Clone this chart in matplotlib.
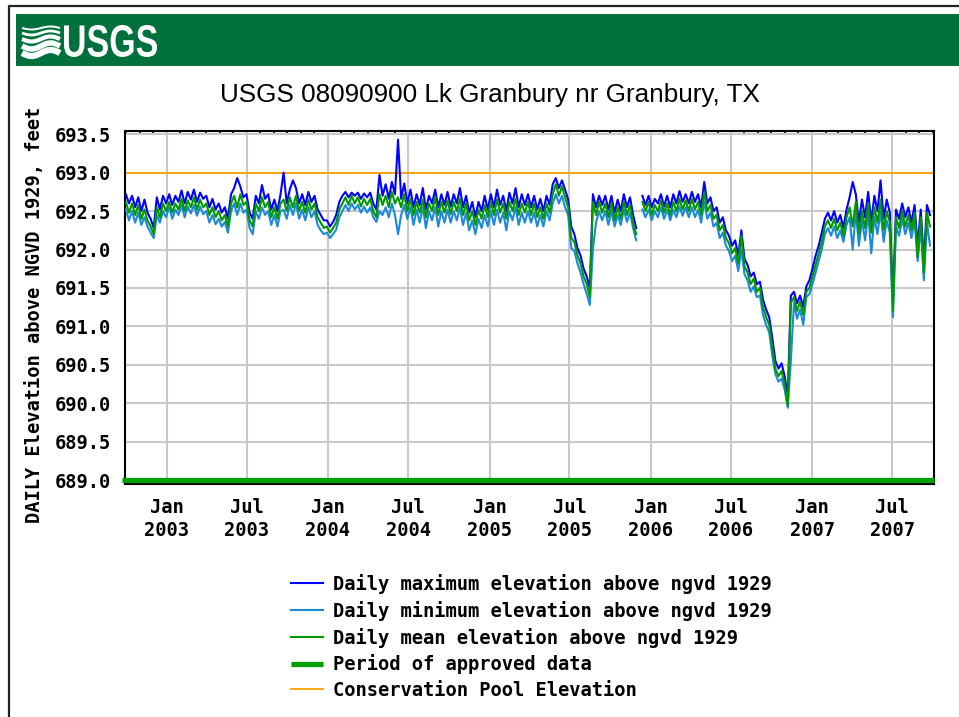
import numpy as np
import pandas as pd
import matplotlib
matplotlib.use('Agg')
import matplotlib.pyplot as plt
import matplotlib.dates as mdates
from matplotlib.patches import Rectangle, PathPatch
from matplotlib.textpath import TextPath
from matplotlib.font_manager import FontProperties
from matplotlib.transforms import Affine2D

# weekly readings, starting 2002-10-01 (feet above NGVD 1929)
nan = np.nan
mean_elev = [
    692.62, 692.48, 692.60, 692.45, 692.58, 692.40, 692.52, 692.38, 692.30, 692.20, 692.55, 692.42, 692.60,
    692.50, 692.62, 692.48, 692.60, 692.52, 692.66, 692.50, 692.64, 692.55, 692.68, 692.52, 692.65, 692.55,
    692.60, 692.45, 692.55, 692.42, 692.50, 692.38, 692.45, 692.30, 692.60, 692.70, 692.55, 692.72, 692.58,
    692.62, 692.38, 692.30, 692.60, 692.50, 692.68, 692.55, 692.62, 692.42, 692.55, 692.40, 692.60, 692.65,
    692.50, 692.68, 692.55, 692.70, 692.50, 692.62, 692.48, 692.65, 692.52, 692.60, 692.42, 692.35, 692.28,
    692.30, 692.22, 692.28, 692.35, 692.52, 692.60, 692.68, 692.58, 692.70, 692.60, 692.68, 692.56, 692.66,
    692.58, 692.66, 692.50, 692.42, 692.72, 692.58, 692.70, 692.55, 692.75, 692.60, 692.68, 692.55, 692.72,
    692.50, 692.66, 692.45, 692.62, 692.48, 692.65, 692.42, 692.60, 692.50, 692.68, 692.45, 692.62, 692.48,
    692.64, 692.46, 692.62, 692.50, 692.66, 692.45, 692.60, 692.38, 692.50, 692.32, 692.52, 692.40, 692.58,
    692.42, 692.62, 692.45, 692.65, 692.48, 692.60, 692.40, 692.62, 692.50, 692.66, 692.45, 692.60, 692.48,
    692.62, 692.45, 692.60, 692.42, 692.55, 692.40, 692.60, 692.48, 692.72, 692.85, 692.70, 692.82, 692.68,
    692.55, 692.15, 692.10, 691.92, 691.82, 691.65, 691.55, 691.38, 692.62, 692.45, 692.62, 692.48, 692.60,
    692.42, 692.60, 692.38, 692.55, 692.40, 692.62, 692.45, 692.58, 692.35, 692.20, nan, 692.62, 692.50,
    692.62, 692.45, 692.58, 692.50, 692.64, 692.48, 692.60, 692.45, 692.62, 692.50, 692.66, 692.52, 692.64,
    692.50, 692.66, 692.52, 692.62, 692.45, 692.75, 692.50, 692.58, 692.40, 692.45, 692.25, 692.32, 692.15,
    692.08, 691.95, 692.02, 691.82, 692.18, 691.78, 691.70, 691.55, 691.62, 691.45, 691.50, 691.25, 691.12,
    691.02, 690.72, 690.45, 690.35, 690.42, 690.25, 689.97, 691.30, 691.38, 691.20, 691.32, 691.15, 691.45,
    691.50, 691.65, 691.80, 691.95, 692.10, 692.30, 692.38, 692.28, 692.40, 692.25, 692.35, 692.18, 692.42,
    692.55, 692.30, 692.62, 692.20, 692.50, 692.28, 692.60, 692.22, 692.55, 692.35, 692.65, 692.25, 692.50,
    692.35, 691.20, 692.42, 692.28, 692.50, 692.30, 692.45, 692.25, 692.48, 691.90, 692.42, 691.70, 692.48, 692.30,
]
max_elev = [
    692.72, 692.60, 692.70, 692.55, 692.68, 692.50, 692.65, 692.48, 692.40, 692.28, 692.68, 692.52, 692.70,
    692.60, 692.72, 692.58, 692.70, 692.62, 692.77, 692.60, 692.75, 692.65, 692.78, 692.62, 692.74, 692.66,
    692.70, 692.55, 692.66, 692.52, 692.60, 692.48, 692.55, 692.40, 692.72, 692.80, 692.93, 692.82, 692.68,
    692.72, 692.48, 692.40, 692.70, 692.60, 692.84, 692.66, 692.72, 692.52, 692.65, 692.50, 692.72, 693.00,
    692.60, 692.78, 692.90, 692.80, 692.60, 692.72, 692.58, 692.75, 692.62, 692.70, 692.52, 692.45, 692.38,
    692.38, 692.30, 692.36, 692.45, 692.62, 692.70, 692.75, 692.68, 692.74, 692.70, 692.74, 692.66, 692.73,
    692.68, 692.74, 692.60, 692.52, 692.97, 692.70, 692.85, 692.66, 692.88, 692.72, 693.43, 692.66, 692.86,
    692.60, 692.78, 692.55, 692.72, 692.58, 692.80, 692.52, 692.70, 692.60, 692.78, 692.55, 692.72, 692.58,
    692.75, 692.56, 692.72, 692.60, 692.80, 692.55, 692.70, 692.48, 692.62, 692.42, 692.62, 692.50, 692.70,
    692.52, 692.72, 692.55, 692.78, 692.58, 692.70, 692.50, 692.74, 692.60, 692.80, 692.55, 692.72, 692.58,
    692.72, 692.55, 692.70, 692.52, 692.66, 692.50, 692.70, 692.58, 692.85, 692.93, 692.80, 692.90, 692.78,
    692.65, 692.30, 692.20, 692.02, 691.92, 691.75, 691.65, 691.50, 692.72, 692.55, 692.70, 692.58, 692.70,
    692.52, 692.70, 692.48, 692.65, 692.50, 692.72, 692.55, 692.68, 692.45, 692.28, nan, 692.70, 692.58,
    692.70, 692.55, 692.66, 692.60, 692.72, 692.56, 692.70, 692.55, 692.72, 692.60, 692.76, 692.62, 692.72,
    692.60, 692.75, 692.62, 692.72, 692.55, 692.88, 692.60, 692.68, 692.50, 692.55, 692.35, 692.42, 692.25,
    692.18, 692.05, 692.12, 691.92, 692.25, 691.88, 691.80, 691.65, 691.70, 691.55, 691.58, 691.35, 691.22,
    691.12, 690.85, 690.55, 690.45, 690.52, 690.35, 690.10, 691.40, 691.45, 691.30, 691.40, 691.25, 691.52,
    691.60, 691.75, 691.92, 692.05, 692.22, 692.40, 692.48, 692.38, 692.50, 692.35, 692.45, 692.28, 692.52,
    692.68, 692.88, 692.72, 692.35, 692.65, 692.42, 692.75, 692.35, 692.70, 692.50, 692.90, 692.40, 692.65,
    692.48, 691.35, 692.52, 692.40, 692.60, 692.42, 692.55, 692.35, 692.58, 692.05, 692.52, 691.85, 692.58, 692.45,
]
min_elev = [
    692.52, 692.38, 692.50, 692.35, 692.48, 692.32, 692.42, 692.30, 692.22, 692.15, 692.45, 692.35, 692.50,
    692.42, 692.55, 692.40, 692.52, 692.45, 692.58, 692.42, 692.56, 692.47, 692.58, 692.44, 692.56, 692.46,
    692.50, 692.35, 692.45, 692.33, 692.40, 692.30, 692.36, 692.22, 692.50, 692.60, 692.45, 692.60, 692.48,
    692.52, 692.28, 692.20, 692.50, 692.40, 692.55, 692.45, 692.50, 692.32, 692.45, 692.30, 692.50, 692.52,
    692.40, 692.58, 692.45, 692.60, 692.40, 692.52, 692.38, 692.55, 692.42, 692.50, 692.32, 692.25, 692.20,
    692.22, 692.15, 692.20, 692.26, 692.42, 692.50, 692.58, 692.50, 692.60, 692.52, 692.58, 692.48, 692.56,
    692.48, 692.55, 692.42, 692.36, 692.50, 692.45, 692.55, 692.42, 692.60, 692.45, 692.20, 692.45, 692.58,
    692.40, 692.55, 692.32, 692.52, 692.35, 692.55, 692.28, 692.50, 692.38, 692.55, 692.30, 692.50, 692.35,
    692.52, 692.35, 692.50, 692.38, 692.55, 692.32, 692.48, 692.25, 692.38, 692.20, 692.40, 692.28, 692.45,
    692.30, 692.50, 692.32, 692.52, 692.35, 692.48, 692.25, 692.50, 692.38, 692.55, 692.32, 692.48, 692.35,
    692.50, 692.35, 692.48, 692.30, 692.45, 692.30, 692.50, 692.38, 692.60, 692.72, 692.60, 692.70, 692.55,
    692.45, 692.02, 691.98, 691.82, 691.70, 691.55, 691.42, 691.28, 692.00, 692.35, 692.50, 692.38, 692.50,
    692.32, 692.50, 692.30, 692.45, 692.32, 692.52, 692.36, 692.48, 692.28, 692.12, nan, 692.52, 692.42,
    692.52, 692.38, 692.50, 692.42, 692.55, 692.40, 692.52, 692.38, 692.52, 692.42, 692.56, 692.44, 692.55,
    692.42, 692.55, 692.42, 692.52, 692.35, 692.62, 692.40, 692.48, 692.30, 692.35, 692.15, 692.22, 692.05,
    691.98, 691.85, 691.92, 691.72, 692.00, 691.68, 691.60, 691.45, 691.52, 691.38, 691.40, 691.15, 691.02,
    690.92, 690.62, 690.38, 690.28, 690.32, 690.18, 689.94, 690.55, 691.30, 691.10, 691.22, 691.02, 691.38,
    691.42, 691.55, 691.70, 691.85, 692.00, 692.20, 692.28, 692.18, 692.30, 692.15, 692.25, 692.10, 692.32,
    692.42, 692.00, 692.50, 692.05, 692.38, 692.12, 692.48, 691.95, 692.42, 692.20, 692.50, 692.10, 692.38,
    692.22, 691.12, 692.30, 692.18, 692.40, 692.20, 692.35, 692.15, 692.38, 691.85, 692.30, 691.60, 692.35, 692.05,
]
start_date = '2002-10-01'
pool_elev = 693.0
approved_period = ['2002-09-23', '2007-10-04']
approved_elev = 689.0
y_ticks = [689.0, 689.5, 690.0, 690.5, 691.0, 691.5, 692.0, 692.5, 693.0, 693.5]

title = 'USGS 08090900 Lk Granbury nr Granbury, TX'
ylabel = 'DAILY Elevation above NGVD 1929, feet'
labels = ['Daily maximum elevation above ngvd 1929',
          'Daily minimum elevation above ngvd 1929',
          'Daily mean elevation above ngvd 1929',
          'Period of approved data',
          'Conservation Pool Elevation']

W, H = 959, 717
mono = dict(family='DejaVu Sans Mono', weight='bold', size=13.5)

fig = plt.figure(figsize=(W / 100, H / 100), dpi=100)

# page decoration in pixel coordinates
bg = fig.add_axes([0, 0, 1, 1], zorder=0)
bg.set_xlim(0, W)
bg.set_ylim(H, 0)
bg.axis('off')
bg.plot([8.5, 8.5, W + 5], [H + 5, 5.5, 5.5], color='#222222', lw=1.6, clip_on=False)
bg.add_patch(Rectangle((16, 14), W, 52, color='#00703c', lw=0))
tp = TextPath((0, 0), 'USGS', size=10, prop=FontProperties(family='Liberation Sans', weight='bold'))
ext = tp.get_extents()
tr = (Affine2D().translate(-ext.x0, -ext.y0)
      .scale(93 / ext.width, -32 / ext.height).translate(64, 57) + bg.transData)
bg.add_patch(PathPatch(tp, transform=tr, fc='white', ec='none'))
# wave mark
t = np.linspace(22, 60, 80)
for yc, amp, w in [(28, 1.5, 1.4), (33, 2.0, 2.0), (39, 2.5, 3.0), (46, 3.0, 4.0), (53, 3.0, 4.5)]:
    bg.plot(t, yc + amp * np.sin((t - 22) / 38 * 2 * np.pi), color='white', lw=w,
            solid_capstyle='butt')

fig.text(490 / W, 1 - 95 / H, title, ha='center', va='center',
         family='Liberation Sans', size=18.8)
fig.text(35 / W, 1 - 315 / H, ylabel, rotation=90, ha='center', va='center', **mono)

ax = fig.add_axes([125 / W, 1 - 484 / H, (934 - 125) / W, (484 - 131) / H], zorder=2)
dates = pd.date_range(start_date, periods=len(mean_elev), freq='7D')

l_max, = ax.plot(dates, max_elev, color='#0000ff', lw=1.5, zorder=3)
l_min, = ax.plot(dates, min_elev, color='#1c8ad8', lw=1.5, zorder=3)
l_mean, = ax.plot(dates, mean_elev, color='#009a00', lw=1.5, zorder=4)
l_app, = ax.plot(pd.to_datetime(approved_period), [approved_elev, approved_elev],
                 color='#00a000', lw=3.8, solid_capstyle='butt', clip_on=False, zorder=5)
l_pool = ax.axhline(pool_elev, color='#ffa000', lw=1.3, zorder=2)

ax.set_xlim(pd.Timestamp('2002-09-29'), pd.Timestamp('2007-10-04'))
ax.set_ylim(688.948, 693.543)
ax.set_yticks(y_ticks)
ax.set_yticklabels(['%.1f' % v for v in y_ticks])
ax.xaxis.set_major_locator(mdates.MonthLocator(bymonth=[1, 7]))
ax.xaxis.set_major_formatter(mdates.DateFormatter('%b\n%Y'))
ax.xaxis.set_minor_locator(mdates.MonthLocator())
ax.tick_params(which='major', length=0, pad=10)
ax.tick_params(which='minor', bottom=False, top=True, direction='in', length=3, width=1.2)
for lab in ax.get_xticklabels() + ax.get_yticklabels():
    lab.set_fontproperties(FontProperties(**mono))
for lab in ax.get_xticklabels():
    lab.set_linespacing(1.3)
ax.grid(True, color='#c8c8c8', lw=1.5)
ax.set_axisbelow(True)
for sp in ax.spines.values():
    sp.set_linewidth(1.5)

fig.legend([l_max, l_min, l_mean, l_app, l_pool], labels, loc='upper left',
           bbox_to_anchor=(291 / W, 1 - 574 / H), frameon=False, prop=FontProperties(**mono),
           handlelength=1.7, handletextpad=0.55, labelspacing=0.36, borderpad=0, borderaxespad=0)

fig.savefig('out.png', dpi=100)
